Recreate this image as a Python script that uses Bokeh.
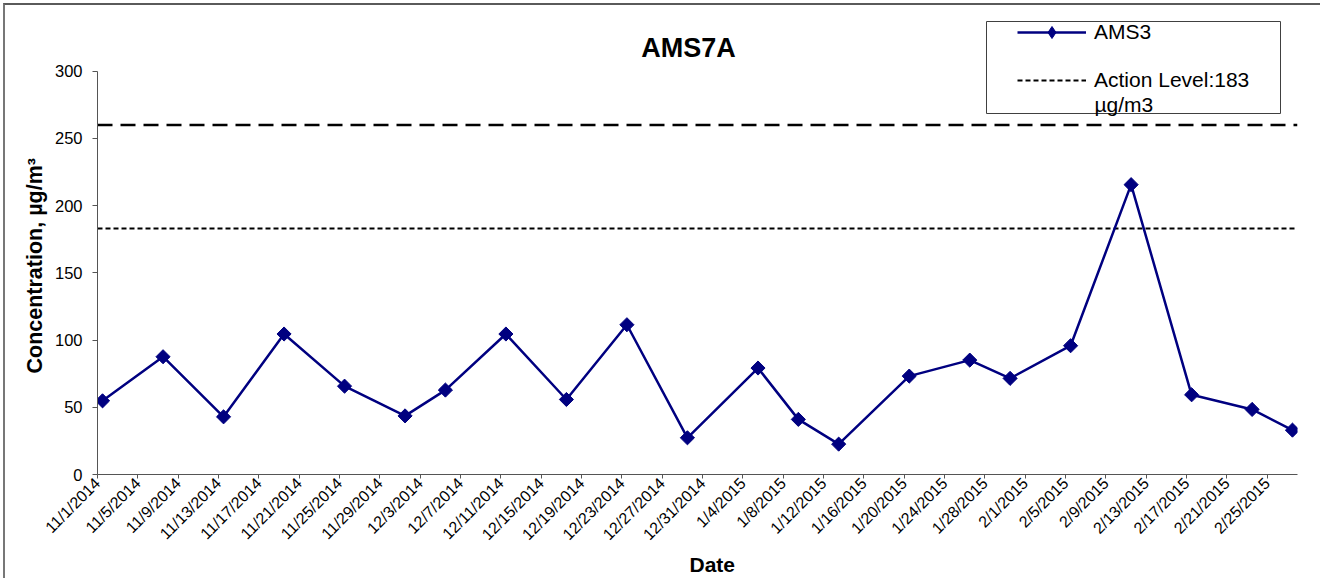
import math
import pandas as pd
from bokeh.plotting import figure
from bokeh.models import (Range1d, FixedTicker, Legend, LegendItem, Label, BoxAnnotation,
                          InlineStyleSheet, Title)
from bokeh.embed import file_html
from bokeh.resources import INLINE

# ---------------- data ----------------
sample_dates = ["2014-11-01", "2014-11-07", "2014-11-13", "2014-11-19", "2014-11-25",
                "2014-12-01", "2014-12-05", "2014-12-11", "2014-12-17", "2014-12-23",
                "2014-12-29", "2015-01-05", "2015-01-09", "2015-01-13", "2015-01-20",
                "2015-01-26", "2015-01-30", "2015-02-05", "2015-02-11", "2015-02-17",
                "2015-02-23", "2015-02-27"]
ams3_values = [54.8, 87.6, 42.9, 104.5, 65.7, 43.6, 62.8, 104.5, 55.8, 111.4,
               27.3, 79.2, 41.0, 22.6, 73.2, 85.1, 71.5, 95.8, 215.6, 59.3,
               48.4, 33.0]
action_level = 183
upper_level = 260
x_tick_labels = ["11/1/2014", "11/5/2014", "11/9/2014", "11/13/2014", "11/17/2014",
                 "11/21/2014", "11/25/2014", "11/29/2014", "12/3/2014", "12/7/2014",
                 "12/11/2014", "12/15/2014", "12/19/2014", "12/23/2014", "12/27/2014",
                 "12/31/2014", "1/4/2015", "1/8/2015", "1/12/2015", "1/16/2015",
                 "1/20/2015", "1/24/2015", "1/28/2015", "2/1/2015", "2/5/2015",
                 "2/9/2015", "2/13/2015", "2/17/2015", "2/21/2015", "2/25/2015"]
y_ticks = [0, 50, 100, 150, 200, 250, 300]
chart_title = "AMS7A"
series_name = "AMS3"
action_label = "Action Level:183"
action_label_unit = "µg/m3"
x_title = "Date"
y_title = "Concentration, µg/m³"

FONT = "Liberation Sans"
NAVY = "#000080"

# ---------------- layout constants (pixels) ----------------
W, H = 1320, 578
FL, FR, FB = 97, 23, 104          # frame borders: left, right, bottom (frame reaches the top)
FH = H - FB                        # frame height
Y300_PX = 70.7                     # canvas y of the 300 gridline
y_top = y_ticks[-1] * FH / (FH - Y300_PX)


def sx(px):  # canvas x -> frame screen x
    return px - FL


def sy(py):  # canvas y -> frame screen y (upwards from frame bottom)
    return FH - py


# ---------------- derived positions (day slots) ----------------
dates = pd.to_datetime(sample_dates)
start = dates[0]
x_vals = [(d - start).days + 0.5 for d in dates]
n_slots = (dates[-1] - start).days + 1
tick_pos = [float((pd.to_datetime(l, format="%m/%d/%Y") - start).days) for l in x_tick_labels]

p = figure(width=W, height=H, output_backend="svg", toolbar_location=None,
           title_location=None,
           x_range=Range1d(0, n_slots), y_range=Range1d(y_ticks[0], y_top),
           min_border_left=FL, min_border_right=FR, min_border_top=0, min_border_bottom=FB)
p.outline_line_color = None
p.background_fill_color = "white"
p.border_fill_color = "white"
p.xgrid.visible = False
p.ygrid.visible = False

# outer frame edges (top & left), as in the source document
p.stylesheets = [InlineStyleSheet(css=":host::after { content: ''; position: absolute; "
                                      "left: 3px; top: 3px; right: 0; bottom: 0; "
                                      "border-top: 2px solid #5a5a5a; border-left: 2px solid #777; "
                                      "pointer-events: none; }")]

# reference lines
x_ends = [0, n_slots]
upper_r = p.line(x_ends, [upper_level, upper_level], line_color="black", line_width=2.5,
                 line_dash="15 8")
action_r = p.line(x_ends, [action_level, action_level], line_color="black", line_width=2,
                  line_dash="5 3")

# series
line_r = p.line(x_vals, ams3_values, line_color=NAVY, line_width=2.5)
pts_r = p.scatter(x_vals, ams3_values, marker="square", angle=math.pi / 4, size=10,
                  fill_color=NAVY, line_color=NAVY)
# diamond shape used only for the legend sample (zero size on the plot itself)
legend_marker_r = p.scatter(x_vals, ams3_values, marker="diamond", size=0,
                            fill_color=NAVY, line_color=NAVY)

# axes
xa = p.xaxis[0]
xa.ticker = FixedTicker(ticks=tick_pos)
xa.major_label_overrides = {t: l for t, l in zip(tick_pos, x_tick_labels)}
xa.major_label_orientation = math.pi / 4
xa.bounds = (0, n_slots)
xa.major_label_standoff = 2
xa.major_label_text_font = FONT
xa.major_label_text_font_size = "16px"
xa.major_label_text_color = "black"
xa.major_tick_out = 4
xa.major_tick_in = 0
xa.minor_tick_line_color = None
xa.axis_line_color = "#555555"
xa.major_tick_line_color = "#555555"

ya = p.yaxis[0]
ya.ticker = FixedTicker(ticks=y_ticks)
ya.bounds = (y_ticks[0], y_ticks[-1])
ya.major_label_standoff = 10
ya.major_label_text_font = FONT
ya.major_label_text_font_size = "16.5px"
ya.major_label_text_color = "black"
ya.major_tick_out = 5
ya.major_tick_in = 0
ya.minor_tick_line_color = None
ya.axis_line_color = "#555555"
ya.major_tick_line_color = "#555555"

# axis titles (placed as side titles so they can be positioned like the source)
p.add_layout(Title(text=x_title, align="left", offset=689 - FL, standoff=0,
                   vertical_align="top", text_font=FONT, text_font_style="bold",
                   text_font_size="21px", text_color="black"), "below")
p.add_layout(Title(text=y_title, align="left", offset=FH - 373, standoff=8,
                   vertical_align="middle", text_font=FONT, text_font_style="bold",
                   text_font_size="21.5px", text_color="black"), "left")

# chart title
p.add_layout(Label(x=sx(688), y=sy(47), x_units="screen", y_units="screen", text=chart_title,
                   text_font=FONT, text_font_style="bold", text_font_size="27px",
                   text_color="black", text_align="center", text_baseline="middle"))

# legend box
p.add_layout(BoxAnnotation(left=sx(986), right=sx(1280), bottom=sy(113), top=sy(21),
                           left_units="screen", right_units="screen",
                           bottom_units="screen", top_units="screen",
                           fill_alpha=0, line_color="#404040", line_width=1, line_alpha=1))

leg_kw = dict(padding=0, margin=0, spacing=0, glyph_width=69, label_standoff=8,
              label_text_font=FONT, label_text_font_size="21px", label_text_color="black",
              background_fill_alpha=0, border_line_color=None)
legend_a = Legend(items=[LegendItem(label=series_name, renderers=[line_r, legend_marker_r])],
                  location=(sx(1017), sy(32 + 15)), glyph_height=30, label_height=30, **leg_kw)
legend_b = Legend(items=[LegendItem(label=action_label, renderers=[action_r])],
                  location=(sx(1017), sy(80 + 12)), glyph_height=24, label_height=24, **leg_kw)
p.add_layout(legend_a)
p.add_layout(legend_b)
p.add_layout(Label(x=sx(1094), y=sy(104), x_units="screen", y_units="screen",
                   text=action_label_unit, text_font=FONT, text_font_size="21px",
                   text_color="black", text_align="left", text_baseline="middle"))

open("out.html", "w").write(file_html(p, INLINE))
